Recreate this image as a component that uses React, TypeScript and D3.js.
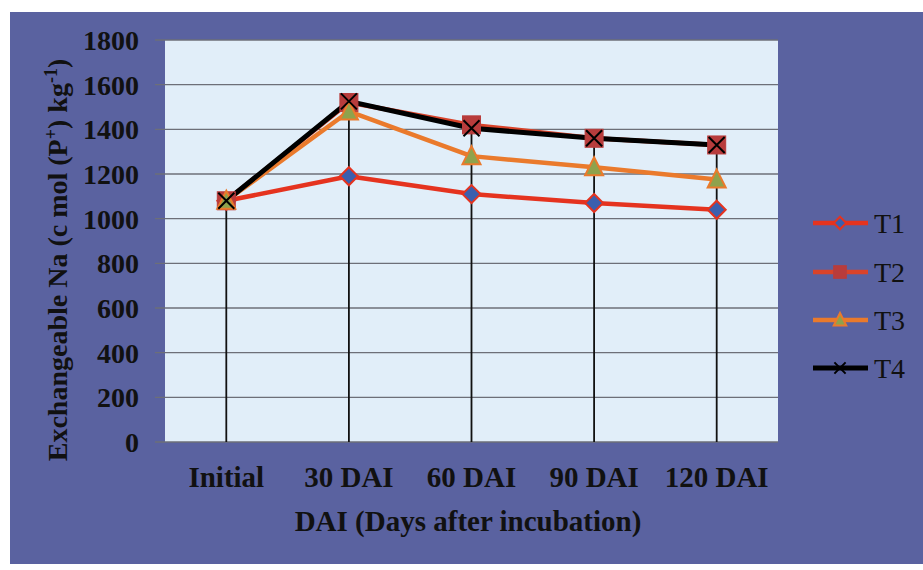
import React from "react";
import * as d3 from "d3";

const categories = ["Initial", "30 DAI", "60 DAI", "90 DAI", "120 DAI"];
const seriesNames = ["T1", "T2", "T3", "T4"];
const t1 = [1080, 1190, 1110, 1070, 1040];
const t2 = [1080, 1520, 1420, 1360, 1330];
const t3 = [1080, 1480, 1280, 1230, 1175];
const t4 = [1080, 1525, 1405, 1360, 1330];
const yTicks = [0, 200, 400, 600, 800, 1000, 1200, 1400, 1600, 1800];

const W = 923;
const H = 570;
const plot = { left: 165, top: 40, right: 778, bottom: 442 };
const font = "'Liberation Serif', 'Times New Roman', serif";

type Series = { name: string; values: number[]; line: string; marker: string; fill: string; stroke: string };

const series: Series[] = [
  { name: seriesNames[0], values: t1, line: "#e5331f", marker: "diamond", fill: "#3b5fae", stroke: "#e5331f" },
  { name: seriesNames[1], values: t2, line: "#d9432a", marker: "square", fill: "#b83c3c", stroke: "#b83c3c" },
  { name: seriesNames[2], values: t3, line: "#ea7a2c", marker: "triangle", fill: "#8fa24c", stroke: "#ea7a2c" },
  { name: seriesNames[3], values: t4, line: "#000000", marker: "x", fill: "none", stroke: "#000000" },
];

function Marker({ kind, x, y, fill, stroke, k = 1 }: { kind: string; x: number; y: number; fill: string; stroke: string; k?: number }) {
  const s = 9 * k;
  if (kind === "diamond") {
    return <path d={`M${x},${y - s} L${x + s},${y} L${x},${y + s} L${x - s},${y} Z`} fill={fill} stroke={stroke} strokeWidth={2} />;
  }
  if (kind === "square") {
    return <rect x={x - s} y={y - s} width={2 * s} height={2 * s} fill={fill} stroke={stroke} strokeWidth={1} />;
  }
  if (kind === "triangle") {
    return <path d={`M${x},${y - 10 * k} L${x + s},${y + 8 * k} L${x - s},${y + 8 * k} Z`} fill={fill} stroke={stroke} strokeWidth={2} />;
  }
  const r = 8 * k;
  return (
    <path d={`M${x - r},${y - r} L${x + r},${y + r} M${x + r},${y - r} L${x - r},${y + r}`} stroke={stroke} strokeWidth={2} fill="none" />
  );
}

export default function App() {
  const x = d3.scaleBand<string>().domain(categories).range([plot.left, plot.right]);
  const y = d3.scaleLinear().domain([0, 1800]).range([plot.bottom, plot.top]);
  const cx = (c: string) => (x(c) as number) + x.bandwidth() / 2;
  const line = d3
    .line<number>()
    .x((_, i) => cx(categories[i]))
    .y((v) => y(v));

  const maxAt = categories.map((_, i) => d3.max(series, (s) => s.values[i]) as number);

  const legendY = [223, 272, 320, 368];

  return (
    <svg width={W} height={H} style={{ position: "absolute", left: 0, top: 0 }}>
      <rect x={0} y={0} width={W} height={H} fill="#ffffff" />
      <rect x={10} y={12} width={W - 10} height={552} fill="#5a62a0" />
      <rect x={plot.left} y={plot.top} width={plot.right - plot.left} height={plot.bottom - plot.top} fill="#e1eef9" />

      {yTicks.map((t) => (
        <line key={t} x1={plot.left - 10} x2={plot.right} y1={y(t)} y2={y(t)} stroke="#6d6f78" strokeWidth={1.3} />
      ))}

      {categories.map((c, i) => (
        <line key={c} x1={cx(c)} x2={cx(c)} y1={y(0)} y2={y(maxAt[i])} stroke="#111" strokeWidth={1.8} />
      ))}

      {series.map((s) => (
        <path key={s.name} d={line(s.values) as string} fill="none" stroke={s.line} strokeWidth={s.name === "T4" ? 5 : 4.5} strokeLinejoin="round" />
      ))}
      {series.map((s) =>
        s.values.map((v, i) => (
          <Marker key={s.name + i} kind={s.marker} x={cx(categories[i])} y={y(v)} fill={s.fill} stroke={s.stroke} />
        ))
      )}

      {yTicks.map((t) => (
        <text key={t} x={139} y={y(t)} dy="0.36em" textAnchor="end" fontFamily={font} fontWeight="bold" fontSize={28} fill="#111">
          {t}
        </text>
      ))}

      {categories.map((c) => (
        <text key={c} x={cx(c)} y={487} textAnchor="middle" fontFamily={font} fontWeight="bold" fontSize={29} fill="#111">
          {c}
        </text>
      ))}

      <text x={468} y={531} textAnchor="middle" fontFamily={font} fontWeight="bold" fontSize={29} fill="#111">
        DAI (Days after incubation)
      </text>

      <text
        transform={`translate(67, 260) rotate(-90)`}
        textAnchor="middle"
        fontFamily={font}
        fontWeight="bold"
        fontSize={28}
        fill="#111"
      >
        Exchangeable Na (c mol (P<tspan baselineShift="super" fontSize={18}>+</tspan>) kg<tspan baselineShift="super" fontSize={18}>-1</tspan>)
      </text>

      {series.map((s, i) => (
        <g key={s.name}>
          <line x1={813} x2={868} y1={legendY[i]} y2={legendY[i]} stroke={s.line} strokeWidth={s.name === "T4" ? 5 : 4.5} />
          <Marker kind={s.marker} x={840} y={legendY[i]} fill={s.fill} stroke={s.stroke} k={0.7} />
          <text x={874} y={legendY[i]} dy="0.36em" fontFamily={font} fontSize={28} fill="#111">
            {s.name}
          </text>
        </g>
      ))}
    </svg>
  );
}
